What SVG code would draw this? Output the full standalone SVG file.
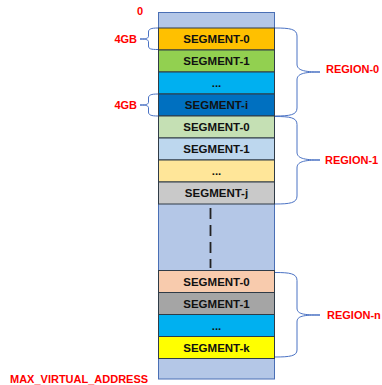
<svg xmlns="http://www.w3.org/2000/svg" width="382" height="385" viewBox="0 0 382 385">
<style>
.seg{stroke:#2f3b47;stroke-width:1}
.st{font-family:"Liberation Sans",Arial,sans-serif;font-weight:bold;font-size:11.5px;fill:#111;text-anchor:middle}
.lb{font-family:"Liberation Sans",Arial,sans-serif;font-weight:bold;font-size:11px;fill:#ff0000}
.br{fill:none;stroke:#4a72c4;stroke-width:1}
</style>
<rect width="382" height="385" fill="#ffffff"/>
<g id="column">
<rect x="158.5" y="12.5" width="116" height="366.5" fill="#b4c7e7" stroke="#4a6fb5" stroke-width="1"/>
</g>
<g id="region0">
<g id="r0s0"><rect class="seg" x="158.5" y="28" width="116" height="22" fill="#ffc000"/><text class="st" x="216.5" y="43">SEGMENT-0</text></g>
<g id="r0s1"><rect class="seg" x="158.5" y="50" width="116" height="22" fill="#92d050"/><text class="st" x="216.5" y="65">SEGMENT-1</text></g>
<g id="r0dots"><rect class="seg" x="158.5" y="72" width="116" height="22" fill="#00b0f0"/><text class="st" x="216.5" y="87">...</text></g>
<g id="r0si"><rect class="seg" x="158.5" y="94" width="116" height="22" fill="#0070c0"/><text class="st" x="216.5" y="109">SEGMENT-i</text></g>
</g>
<g id="region1">
<g id="r1s0"><rect class="seg" x="158.5" y="116" width="116" height="22" fill="#c5e0b4"/><text class="st" x="216.5" y="131">SEGMENT-0</text></g>
<g id="r1s1"><rect class="seg" x="158.5" y="138" width="116" height="22" fill="#bdd7ee"/><text class="st" x="216.5" y="153">SEGMENT-1</text></g>
<g id="r1dots"><rect class="seg" x="158.5" y="160" width="116" height="22" fill="#ffe699"/><text class="st" x="216.5" y="175">...</text></g>
<g id="r1sj"><rect class="seg" x="158.5" y="182" width="116" height="22" fill="#c9c9c9"/><text class="st" x="216.5" y="197">SEGMENT-j</text></g>
</g>
<g id="regionn">
<g id="rns0"><rect class="seg" x="158.5" y="270.5" width="116" height="22" fill="#f8cbad"/><text class="st" x="216.5" y="285.5">SEGMENT-0</text></g>
<g id="rns1"><rect class="seg" x="158.5" y="292.5" width="116" height="22" fill="#a5a5a5"/><text class="st" x="216.5" y="307.5">SEGMENT-1</text></g>
<g id="rndots"><rect class="seg" x="158.5" y="314.5" width="116" height="22" fill="#00b0f0"/><text class="st" x="216.5" y="329.5">...</text></g>
<g id="rnsk"><rect class="seg" x="158.5" y="336.5" width="116" height="22" fill="#ffff00"/><text class="st" x="216.5" y="351.5">SEGMENT-k</text></g>
</g>
<g id="connectors">
<line x1="210.5" y1="208" x2="210.5" y2="268" stroke="#222" stroke-width="1.8" stroke-dasharray="11 6"/>
<path class="br" d="M275 28 C290 28 297 29 297 36 L297 64 C297 70 303 72 320 72 C303 72 297 74 297 80 L297 108 C297 115 290 116 275 116"/>
<path class="br" d="M275 116.5 C290 116.5 297 117.5 297 124.5 L297 152 C297 158 303 160 320 160 C303 160 297 162 297 168 L297 196 C297 203 290 204 275 204"/>
<path class="br" d="M275 272.5 C290 272.5 297 273.5 297 280.5 L297 308 C297 314 303 315 320 315 C303 315 297 316 297 322 L297 350 C297 356 290 357 275 357"/>
<path class="br" d="M158 28 C151 28 148.5 29 148.5 32 L148.5 36 C148.5 38 147 39 140 39 C147 39 148.5 40 148.5 42 L148.5 46 C148.5 49 151 49.5 158 49.5"/>
<path class="br" d="M158 94 C151 94 148.5 95 148.5 98 L148.5 102 C148.5 104 147 105 140 105 C147 105 148.5 106 148.5 108 L148.5 112 C148.5 115 151 116 158 116"/>
</g>
<g id="labels">
<text class="lb" x="140" y="15" text-anchor="middle">0</text>
<text class="lb" x="137" y="43" text-anchor="end">4GB</text>
<text class="lb" x="137" y="109" text-anchor="end">4GB</text>
<text class="lb" x="326" y="73">REGION-0</text>
<text class="lb" x="325" y="164">REGION-1</text>
<text class="lb" x="327" y="319">REGION-n</text>
<text class="lb" x="10" y="383">MAX_VIRTUAL_ADDRESS</text>
</g>
</svg>
